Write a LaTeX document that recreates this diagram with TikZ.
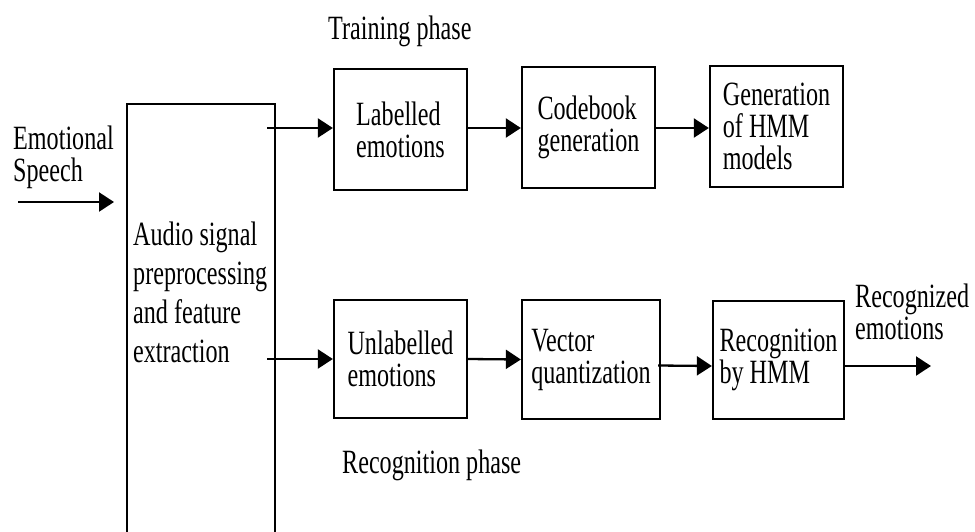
\documentclass[tikz,border=0pt]{standalone}
\usepackage{fontspec}
\setmainfont{Liberation Serif}[FakeStretch=0.71]
\usetikzlibrary{arrows.meta}

\tikzset{
  blk/.style={draw, line width=2.3pt, minimum width=133pt, minimum height=121pt,
              inner sep=0pt, align=left, font=\fontsize{34}{32}\selectfont},
  lbl/.style={inner sep=0pt, align=left, anchor=north west,
              font=\fontsize{34}{32}\selectfont},
  arr/.style={line width=2.3pt, -{Triangle[length=15pt,width=19pt]}}
}

\begin{document}
\begin{tikzpicture}[x=1pt, y=-1pt]
\useasboundingbox (0,0) rectangle (975,531);
\clip (0,0) rectangle (975,531);

% front-end block, running past the lower edge
\node[draw, line width=2.3pt, minimum width=148pt, minimum height=450pt,
      inner sep=0pt, anchor=north west] (pre) at (126,103) {};
\node[lbl, font=\fontsize{34}{39}\selectfont] (pretext) at (133,222)
  {Audio signal\\preprocessing\\and feature\\extraction};

% training row
\node[blk] (lab) at (400.5,129.5) {Labelled\\emotions};
\node[blk] (code) at (588.5,127.5) {Codebook\\generation};
\node[blk] (gen) at (776.5,126.5) {Generation\\of HMM\\models};

% recognition row
\node[blk, minimum height=118pt] (unl) at (400.5,359) {Unlabelled\\emotions};
\node[blk, minimum width=138pt, minimum height=119pt] (vec) at (591,359.5) {Vector\\quantization};
\node[blk, minimum width=131pt, minimum height=118pt] (rec) at (778.5,360) {Recognition\\by HMM};

% free labels
\node[lbl] (speech) at (13,126) {Emotional\\Speech};
\node[lbl] (train) at (328,16) {Training phase};
\node[lbl] (recph) at (342,450) {Recognition phase};
\node[lbl] (out) at (855,284) {Recognized\\emotions};

% loose ends of the connectors
\coordinate (in0) at (18,202);
\coordinate (in1) at (114,202);
\coordinate (tap1) at (267,128);
\coordinate (tap2) at (267,359);
\coordinate (out1) at (931,366);

% connectors
\draw[arr] (in0) -- (in1);
\draw[arr] (tap1) -- (tap1 -| lab.west);
\draw[arr] (lab.east |- 0,128) -- (code.west |- 0,128);
\draw[arr] (code.east |- 0,128) -- (gen.west |- 0,128);
\draw[arr] (tap2) -- (unl.west);
\draw[arr] (unl.east) -- (vec.west);
\draw[arr] ([xshift=-3pt,yshift=-6pt]vec.east) -- ([yshift=-6pt]rec.west);
\draw[arr] ([yshift=-6pt]rec.east) -- (out1);
\end{tikzpicture}
\end{document}
